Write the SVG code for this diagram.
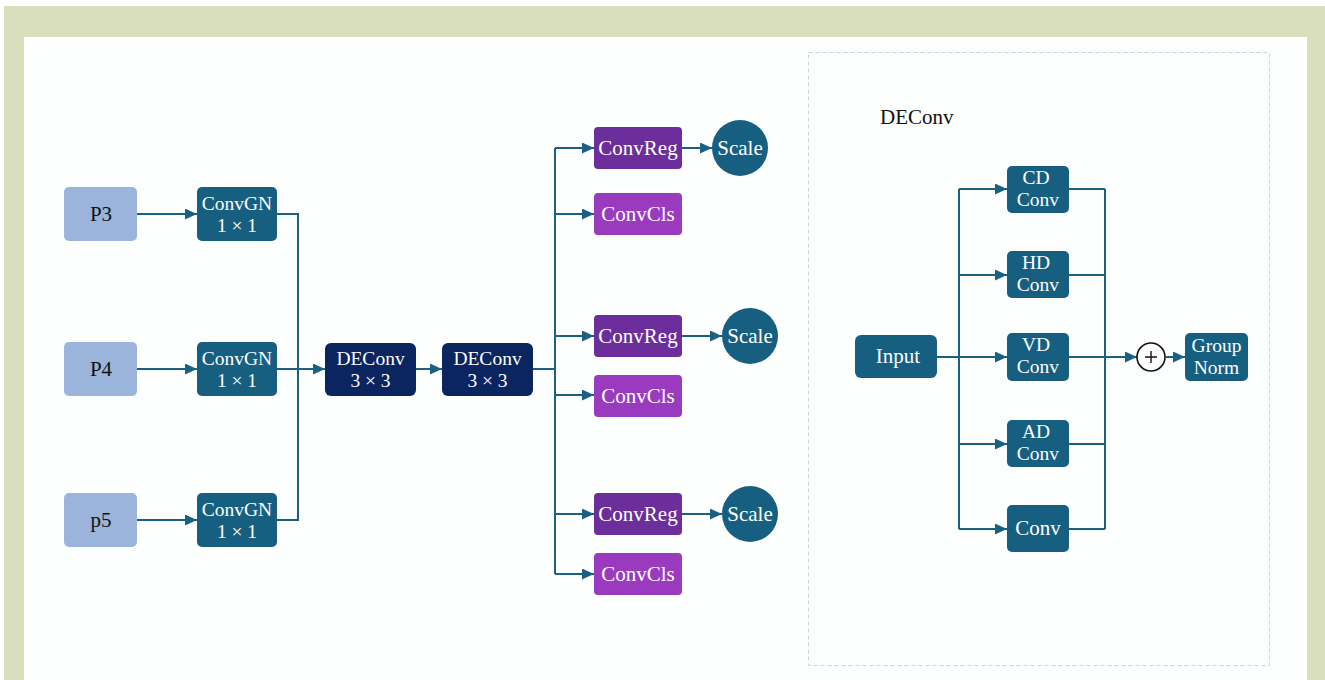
<svg xmlns="http://www.w3.org/2000/svg" width="1325" height="680" viewBox="0 0 1325 680">
  <defs>
    <marker id="arrow" markerUnits="userSpaceOnUse" markerWidth="12" markerHeight="11" refX="12" refY="5.5" orient="auto">
      <path d="M0,0 L12,5.5 L0,11 Z" fill="#1a6082"/>
    </marker>
    <style>
      text { font-family: 'Liberation Serif', 'DejaVu Serif', serif; }
      .lbl { font-size: 21px; text-anchor: middle; fill: #ffffff; }
      .two { font-size: 19.5px; }
      .dark { fill: #111111; }
      .feat { fill: #9ab4dc; }
      .teal { fill: #175f80; }
      .navy { fill: #0b2560; }
      .reg { fill: #6b2e9b; }
      .cls { fill: #9a3bbf; }
      .wire { fill: none; stroke: #1a6082; stroke-width: 2; }
      .arr { marker-end: url(#arrow); }
    </style>
  </defs>

  <!-- frame and canvas -->
  <rect x="0" y="0" width="1325" height="680" fill="#ffffff"/>
  <rect x="4" y="6" width="1321" height="674" fill="#d9dfbc"/>
  <rect x="24" y="37" width="1283" height="643" fill="#fdfefe"/>
  <rect x="808.5" y="52.5" width="461" height="613" fill="none" stroke="#cfd3d6" stroke-width="1" stroke-dasharray="4,3"/>

  <!-- connectors -->
  <g id="connectors">
    <path class="wire arr" d="M137,214 H197"/>
    <path class="wire arr" d="M137,369 H197"/>
    <path class="wire arr" d="M137,520 H197"/>
    <path class="wire" d="M277,214 H298 V520 H277"/>
    <path class="wire arr" d="M277,369 H325"/>
    <path class="wire arr" d="M416,369 H442"/>
    <path class="wire" d="M533,369 H555"/>
    <path class="wire" d="M555,148 V574"/>
    <path class="wire arr" d="M555,148 H594"/>
    <path class="wire arr" d="M555,214 H594"/>
    <path class="wire arr" d="M555,336 H594"/>
    <path class="wire arr" d="M555,395 H594"/>
    <path class="wire arr" d="M555,514 H594"/>
    <path class="wire arr" d="M555,574 H594"/>
    <path class="wire arr" d="M682,148 H712"/>
    <path class="wire arr" d="M682,336 H722"/>
    <path class="wire arr" d="M682,514 H722"/>

    <path class="wire" d="M937,357 H959"/>
    <path class="wire" d="M959,189 V529"/>
    <path class="wire arr" d="M959,189 H1007"/>
    <path class="wire arr" d="M959,275 H1007"/>
    <path class="wire arr" d="M959,357 H1007"/>
    <path class="wire arr" d="M959,444 H1007"/>
    <path class="wire arr" d="M959,529 H1007"/>
    <path class="wire" d="M1069,189 H1105 M1069,275 H1105 M1069,357 H1105 M1069,444 H1105 M1069,529 H1105"/>
    <path class="wire" d="M1105,189 V529"/>
    <path class="wire arr" d="M1105,357 H1137"/>
    <path class="wire arr" d="M1166,357 H1185"/>
  </g>

  <!-- feature inputs -->
  <g id="p3"><rect class="feat" x="64" y="187" width="73" height="54" rx="5"/><text class="lbl dark" x="101" y="221">P3</text></g>
  <g id="p4"><rect class="feat" x="64" y="342" width="73" height="54" rx="5"/><text class="lbl dark" x="101" y="376">P4</text></g>
  <g id="p5"><rect class="feat" x="64" y="493" width="73" height="54" rx="5"/><text class="lbl dark" x="101" y="527">p5</text></g>

  <!-- 1x1 ConvGN -->
  <g id="convgn3"><rect class="teal" x="197" y="187" width="80" height="54" rx="5"/><text class="lbl two" x="237" y="210">ConvGN<tspan x="237" dy="21.5">1 × 1</tspan></text></g>
  <g id="convgn4"><rect class="teal" x="197" y="342" width="80" height="54" rx="5"/><text class="lbl two" x="237" y="365">ConvGN<tspan x="237" dy="21.5">1 × 1</tspan></text></g>
  <g id="convgn5"><rect class="teal" x="197" y="493" width="80" height="54" rx="5"/><text class="lbl two" x="237" y="516">ConvGN<tspan x="237" dy="21.5">1 × 1</tspan></text></g>

  <!-- shared DEConv stack -->
  <g id="deconv1"><rect class="navy" x="325" y="343" width="91" height="53" rx="6"/><text class="lbl two" x="370.5" y="365">DEConv<tspan x="370.5" dy="21.5">3 × 3</tspan></text></g>
  <g id="deconv2"><rect class="navy" x="442" y="343" width="91" height="53" rx="6"/><text class="lbl two" x="487.5" y="365">DEConv<tspan x="487.5" dy="21.5">3 × 3</tspan></text></g>

  <!-- heads -->
  <g id="convreg1"><rect class="reg" x="594" y="127" width="88" height="42" rx="4"/><text class="lbl" x="638" y="155">ConvReg</text></g>
  <g id="convcls1"><rect class="cls" x="594" y="193" width="88" height="42" rx="4"/><text class="lbl" x="638" y="221">ConvCls</text></g>
  <g id="scale1"><circle class="teal" cx="740" cy="148" r="28"/><text class="lbl" x="740" y="155">Scale</text></g>

  <g id="convreg2"><rect class="reg" x="594" y="315" width="88" height="42" rx="4"/><text class="lbl" x="638" y="343">ConvReg</text></g>
  <g id="convcls2"><rect class="cls" x="594" y="375" width="88" height="42" rx="4"/><text class="lbl" x="638" y="403">ConvCls</text></g>
  <g id="scale2"><circle class="teal" cx="750" cy="336" r="28"/><text class="lbl" x="750" y="343">Scale</text></g>

  <g id="convreg3"><rect class="reg" x="594" y="493" width="88" height="42" rx="4"/><text class="lbl" x="638" y="521">ConvReg</text></g>
  <g id="convcls3"><rect class="cls" x="594" y="553" width="88" height="42" rx="4"/><text class="lbl" x="638" y="581">ConvCls</text></g>
  <g id="scale3"><circle class="teal" cx="750" cy="514" r="28"/><text class="lbl" x="750" y="521">Scale</text></g>

  <!-- DEConv detail -->
  <g id="deconv-title"><text class="lbl dark" x="880" y="124" style="text-anchor:start">DEConv</text></g>
  <g id="input"><rect class="teal" x="855" y="335" width="82" height="43" rx="6"/><text class="lbl" x="898" y="363">Input</text></g>
  <g id="cdconv"><rect class="teal" x="1007" y="166" width="62" height="47" rx="5"/><text class="lbl two" x="1036" y="184">CD<tspan x="1038" dy="21.5">Conv</tspan></text></g>
  <g id="hdconv"><rect class="teal" x="1007" y="251" width="62" height="47" rx="5"/><text class="lbl two" x="1036" y="269">HD<tspan x="1038" dy="21.5">Conv</tspan></text></g>
  <g id="vdconv"><rect class="teal" x="1007" y="333" width="62" height="48" rx="5"/><text class="lbl two" x="1036" y="351">VD<tspan x="1038" dy="21.5">Conv</tspan></text></g>
  <g id="adconv"><rect class="teal" x="1007" y="420" width="62" height="47" rx="5"/><text class="lbl two" x="1036" y="438">AD<tspan x="1038" dy="21.5">Conv</tspan></text></g>
  <g id="conv"><rect class="teal" x="1007" y="505" width="62" height="47" rx="5"/><text class="lbl" x="1038" y="535">Conv</text></g>
  <g id="sum">
    <circle cx="1151" cy="357" r="14" fill="#ffffff" stroke="#111111" stroke-width="1.6"/>
    <path d="M1145,357 H1157 M1151,351 V363" stroke="#111111" stroke-width="1.4"/>
  </g>
  <g id="groupnorm"><rect class="teal" x="1185" y="333" width="63" height="48" rx="5"/><text class="lbl two" x="1216.5" y="352">Group<tspan x="1216.5" dy="21.5">Norm</tspan></text></g>
</svg>
